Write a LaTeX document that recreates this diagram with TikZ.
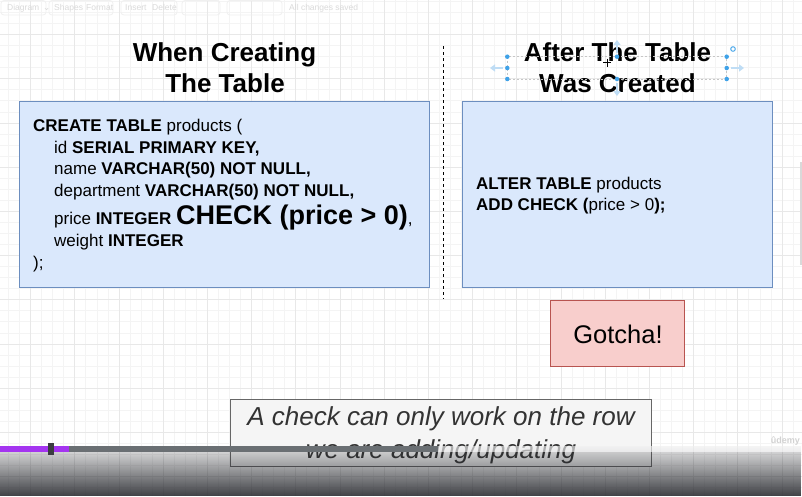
\documentclass[tikz,border=0pt]{standalone}
\usepackage{fontspec}
\setmainfont{Liberation Sans}
\newfontfamily\symfont{DejaVu Sans}
\usetikzlibrary{fadings,arrows.meta}
\definecolor{boxfill}{HTML}{DAE8FC}
\definecolor{boxline}{HTML}{6C8EBF}
\definecolor{redfill}{HTML}{F8CECC}
\definecolor{redline}{HTML}{B85450}
\definecolor{capfill}{HTML}{F5F5F5}
\definecolor{capline}{HTML}{666666}
\definecolor{captext}{HTML}{333333}
\definecolor{gridminor}{HTML}{F4F4F4}
\definecolor{gridmajor}{HTML}{E8E8E8}
\definecolor{uitext}{HTML}{DADADA}
\definecolor{uibox}{HTML}{F0F0F0}
\definecolor{selblue}{HTML}{3FA2E8}
\definecolor{selfaint}{HTML}{BFDDF5}
\definecolor{overlaydark}{HTML}{2A2C31}
\definecolor{barbuf}{HTML}{6A6F73}
\definecolor{barplay}{HTML}{A435F0}
\definecolor{barknob}{HTML}{3B3D41}
\tikzfading[name=bottomdark, top color=transparent!88, bottom color=transparent!10]
\begin{document}
\begin{tikzpicture}[x=1pt,y=-1pt,
  codebox/.style={draw=boxline, fill=boxfill, line width=1pt, inner sep=0pt, anchor=north west},
  redbox/.style={draw=redline, fill=redfill, line width=1pt, inner sep=0pt, anchor=north west},
  capbox/.style={draw=capline, fill=capfill, line width=1pt, inner sep=0pt, anchor=north west},
  codetxt/.style={inner sep=0pt, anchor=base west, font=\fontsize{17}{21}\selectfont},
  titletxt/.style={inner sep=0pt, anchor=base, font=\bfseries\fontsize{26}{31}\selectfont},
  captxt/.style={inner sep=0pt, anchor=base, text=captext, font=\itshape\fontsize{26}{33}\selectfont},
  uilabel/.style={inner sep=0pt, anchor=base west, text=uitext, font=\fontsize{8.5}{10}\selectfont},
  uigroup/.style={draw=uibox, line width=0.8pt, rounded corners=3pt},
  handle/.style={circle, fill=selblue, inner sep=0pt, minimum size=4.5pt}
]
\useasboundingbox (0,0) rectangle (802,496);
\fill[white] (0,0) rectangle (802,496);

% grid
\foreach \i in {0,...,71} {\draw[gridminor, line width=0.8pt] ({8.5+\i*11.05},0) -- ({8.5+\i*11.05},496);}
\foreach \j in {0,...,44} {\draw[gridminor, line width=0.8pt] (0,{1.4+\j*11.05}) -- (802,{1.4+\j*11.05});}
\foreach \i in {2,6,...,70} {\draw[gridmajor, line width=0.8pt] ({8.5+\i*11.05},0) -- ({8.5+\i*11.05},496);}
\foreach \j in {3,7,...,43} {\draw[gridmajor, line width=0.8pt] (0,{1.4+\j*11.05}) -- (802,{1.4+\j*11.05});}

% faint toolbar
\draw[uigroup] (1,0.5) rectangle (46,15);
\draw[uigroup] (49,0.5) rectangle (113,15);
\draw[uigroup] (121,0.5) rectangle (177,15);
\draw[uigroup] (182,0.5) rectangle (220,15);
\draw[uigroup] (227,0.5) rectangle (282,15);
\node[uilabel] (tbdiag) at (7,10.5) {Diagram \,{\symfont ⌄}};
\node[uilabel] (tbshapes) at (54,10.5) {Shapes};
\node[uilabel] (tbformat) at (86,10.5) {Format};
\node[uilabel] (tbinsert) at (125,10.5) {Insert};
\node[uilabel] (tbdelete) at (152,10.5) {Delete};
\node[uilabel] (tbsaved) at (289,10.5) {All changes saved};

% titles
\node[titletxt] (t1a) at (224.5,61.7) {When Creating};
\node[titletxt] (t1b) at (225,92.7) {The Table};
\node[titletxt] (t2a) at (617.5,61.7) {After The Table};
\node[titletxt] (t2b) at (617.5,92.7) {Was Created};

% separator
\coordinate (dtop) at (443,46);
\coordinate (dbot) at (443,299);
\draw[line width=1pt, dash pattern=on 3pt off 3pt] (dtop) -- (dbot);

% left box
\node[codebox, minimum width=410pt, minimum height=186pt] (leftbox) at (19,101) {};
\node[codetxt] (c1) at (33,131.7) {\textbf{CREATE TABLE} products (};
\node[codetxt] (c2) at (54,153.2) {id \textbf{SERIAL PRIMARY KEY,}};
\node[codetxt] (c3) at (54,174.7) {name \textbf{VARCHAR(50) NOT NULL,}};
\node[codetxt] (c4) at (54,196.2) {department \textbf{VARCHAR(50) NOT NULL,}};
\node[codetxt] (c5) at (54,224.4) {price \textbf{INTEGER} {\bfseries\fontsize{27}{30}\selectfont CHECK (price > 0)},};
\node[codetxt] (c6) at (54,246.7) {weight \textbf{INTEGER}};
\node[codetxt] (c7) at (33,268) {);};

% right box
\node[codebox, minimum width=310pt, minimum height=186pt] (rightbox) at (462,101) {};
\node[codetxt] (r1) at (476,189.7) {\textbf{ALTER TABLE} products};
\node[codetxt] (r2) at (476,210.7) {\textbf{ADD CHECK (}price > 0\textbf{);}};

% selection handles on second title
\coordinate (sa) at (507.3,56.7);
\coordinate (sb) at (726.7,79);
\draw[gray!45, line width=0.6pt, dash pattern=on 2pt off 2pt] (sa) rectangle (sb);
\draw[selfaint, line width=2.2pt, -{Triangle[length=5pt,width=7pt]}] (503,68) -- (490,68);
\draw[selfaint, line width=2.2pt, -{Triangle[length=5pt,width=7pt]}] (731,68) -- (744,68);
\draw[selfaint, line width=2.2pt, -{Triangle[length=5pt,width=7pt]}] (617,53) -- (617,40);
\draw[selfaint, line width=2.2pt, -{Triangle[length=5pt,width=7pt]}] (617,83) -- (617,96);
\foreach \p/\q in {507.3/56.7, 507.3/68, 507.3/79, 617/56.7, 617/79, 726.7/56.7, 726.7/68, 726.7/79}
  {\node[handle] at (\p,\q) {};}
\draw[selblue, line width=0.9pt] (733,49) circle (2.3pt);
\draw[black, line width=0.8pt] (603,62.5) -- (611,62.5) (607,58.5) -- (607,66.5);

% gotcha
\node[redbox, minimum width=134pt, minimum height=66pt] (gotbox) at (550,300) {};
\node[inner sep=0pt, anchor=base, font=\fontsize{25.5}{30}\selectfont] (gottxt) at (618,343.5) {Gotcha!};

% caption
\node[capbox, minimum width=421pt, minimum height=67pt] (capbox) at (230,399) {};
\node[captxt] (cap1) at (441,425) {A check can only work on the row};
\node[captxt] (cap2) at (441,458.3) {we are adding/updating};

% video overlay
\fill[overlaydark, path fading=bottomdark] (0,446) rectangle (802,496);
\fill[barbuf] (0,446) rectangle (438,452);
\fill[white, opacity=0.6] (438,446) rectangle (802,452);
\fill[barplay] (0,446) rectangle (69,452);
\fill[barknob] (48,443) rectangle (54,455);
\fill[gray!30] (799.5,162) rectangle (802,265);
\node[inner sep=0pt, anchor=base east, text=gray!35, font=\bfseries\fontsize{9}{10}\selectfont] (udemy) at (800,443) {ûdemy};
\end{tikzpicture}
\end{document}
